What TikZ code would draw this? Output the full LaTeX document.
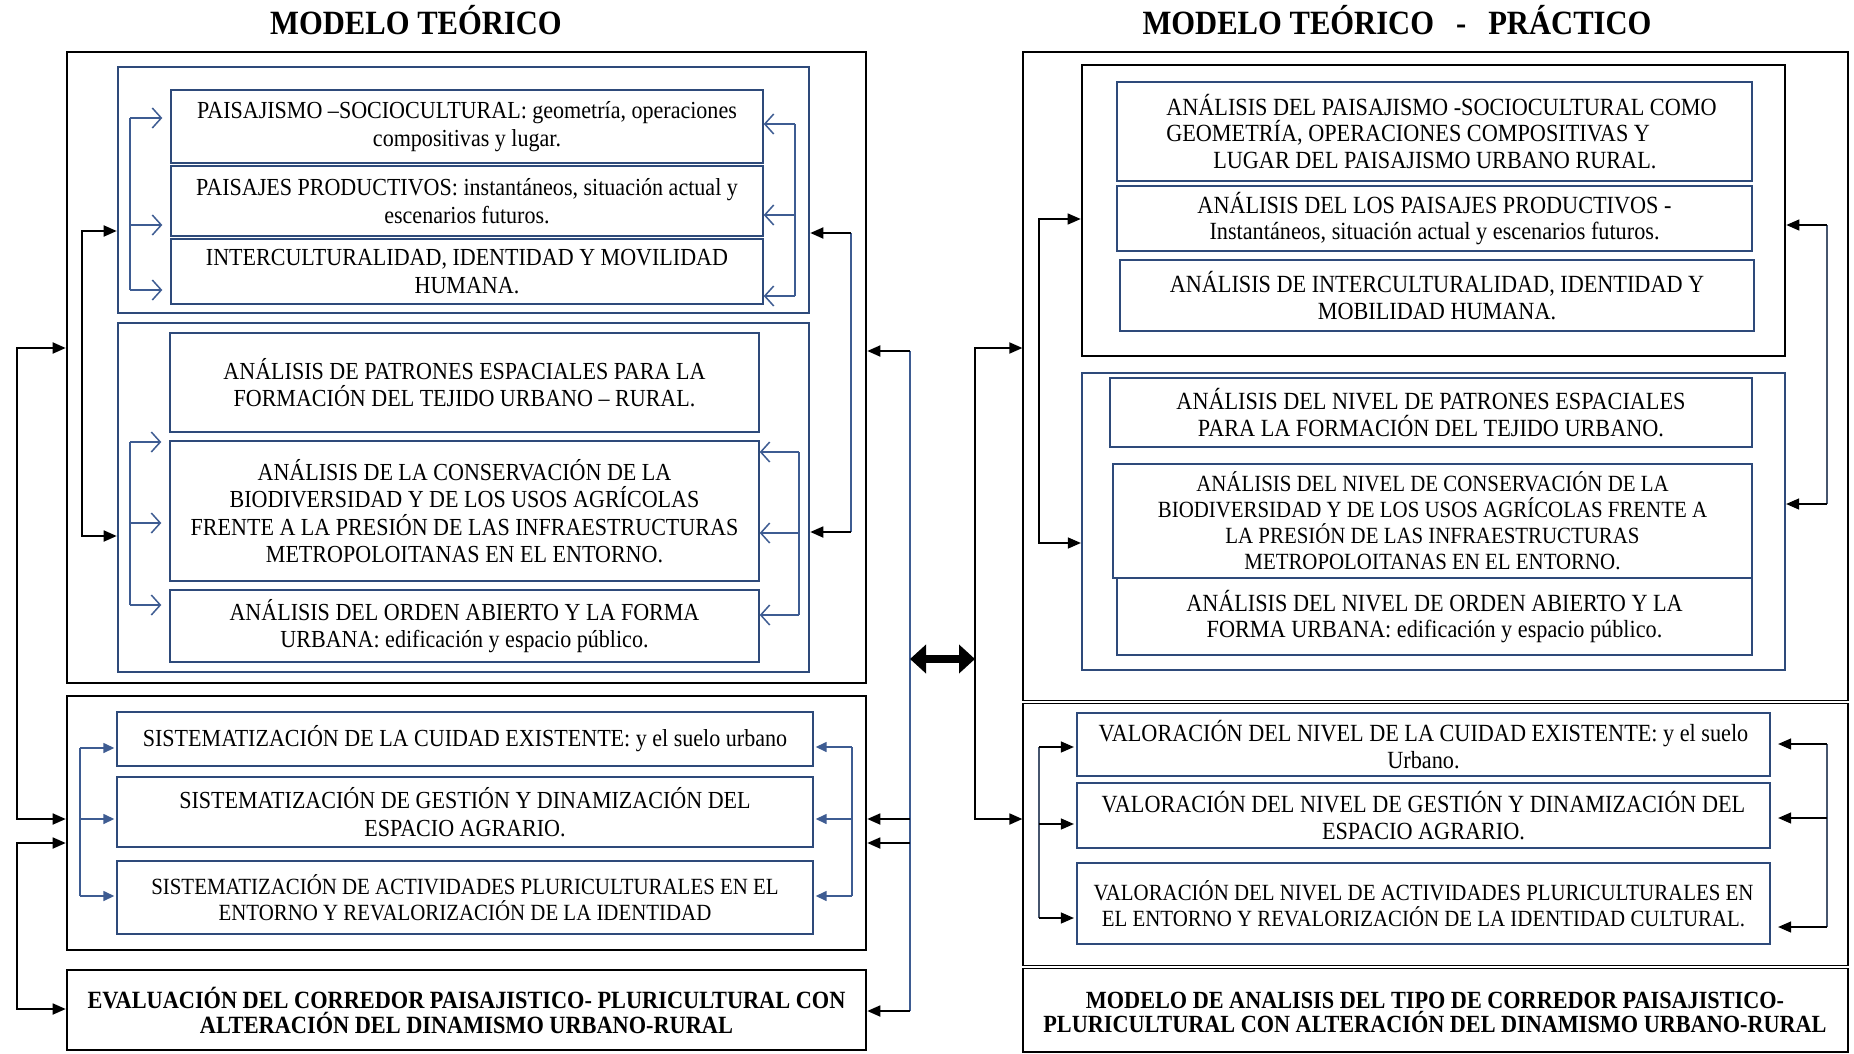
\documentclass[tikz,border=0pt]{standalone}
\usepackage{fontspec}
\setmainfont{Liberation Serif}[FakeStretch=0.9]
\usetikzlibrary{arrows.meta}
\definecolor{navy}{RGB}{46,74,122}
\definecolor{brk}{RGB}{62,92,146}
\definecolor{slate}{RGB}{70,85,110}
\begin{document}
\begin{tikzpicture}[x=1pt,y=-1pt,
  box/.style={rectangle, inner sep=0pt, align=center},
  sz/.style 2 args={minimum width=#1pt, minimum height=#2pt},
  blk/.style={box, draw=black, line width=2.6pt},
  nav/.style={box, draw=navy, line width=2.6pt},
  ibl/.style={box, draw=navy, line width=1.4pt, font=\fontsize{24.5}{27.5}\selectfont},
  ibr/.style={box, draw=navy, line width=2.2pt, font=\fontsize{24.7}{26.5}\selectfont},
  ibs/.style={box, draw=navy, line width=2.2pt, font=\fontsize{23.2}{26}\selectfont},
  boldtxt/.style={align=center, font=\bfseries\fontsize{24.8}{25}\selectfont},
  ttl/.style={font=\bfseries\fontsize{34}{38}\selectfont},
  bline/.style={draw=brk, line width=1.5pt},
  sline/.style={draw=slate, line width=1.3pt},
  kline/.style={draw=black, line width=1.8pt},
  oarr/.style={bline, -{Straight Barb[length=9pt,width=20pt,line width=1.5pt]}},
  barr/.style={bline, -{Triangle[length=11pt,width=10pt]}},
  karr/.style={kline, -{Triangle[length=13pt,width=11pt]}},
  tarr/.style={draw=black, line width=1.3pt, -{Triangle[length=13pt,width=11pt]}},
]
\fill[white] (0,0) rectangle (1854,1054);
\useasboundingbox (0,0) rectangle (1854,1054);

% ---------------- titles ----------------
\node[ttl] (T1) at (416,20) {MODELO TEÓRICO};
\node[ttl] (T2) at (1397,20) {MODELO TEÓRICO\hspace{22pt}-\hspace{22pt}PRÁCTICO};

% ---------------- left panel ----------------
\node[blk, sz={799}{631}] (L1) at (466.5,367.5) {};
\node[nav, sz={691}{246}] (A) at (463.5,190) {};
\node[ibl, sz={592}{73}] (A1) at (467,126.5) {PAISAJISMO –SOCIOCULTURAL: geometría, operaciones\\compositivas y lugar.};
\node[ibl, sz={592}{70}] (A2) at (467,201) {PAISAJES PRODUCTIVOS: instantáneos, situación actual y\\escenarios futuros.};
\node[ibl, sz={592}{65}] (A3) at (467,271.5) {INTERCULTURALIDAD, IDENTIDAD Y MOVILIDAD\\HUMANA.};

\node[nav, sz={691}{349}] (B) at (463.5,497.5) {};
\node[ibl, sz={589}{99}] (B1) at (464.5,382.5) {ANÁLISIS DE PATRONES ESPACIALES PARA LA\\FORMACIÓN DEL TEJIDO URBANO – RURAL.};
\node[ibl, sz={589}{140}] (B2) at (464.5,511) {ANÁLISIS DE LA CONSERVACIÓN DE LA\\BIODIVERSIDAD Y DE LOS USOS AGRÍCOLAS\\FRENTE A LA PRESIÓN DE LAS INFRAESTRUCTURAS\\METROPOLOITANAS EN EL ENTORNO.};
\node[ibl, sz={589}{72}] (B3) at (464.5,626) {ANÁLISIS DEL ORDEN ABIERTO Y LA FORMA\\URBANA: edificación y espacio público.};

\node[blk, sz={799}{254}] (L2) at (466.5,823) {};
\node[ibl, sz={696}{54}] (C1) at (465,739) {SISTEMATIZACIÓN DE LA CUIDAD EXISTENTE: y el suelo urbano};
\node[ibl, sz={696}{70}] (C2) at (465,812) {SISTEMATIZACIÓN DE GESTIÓN Y DINAMIZACIÓN DEL\\ESPACIO AGRARIO.};
\node[ibl, sz={696}{73}, font=\fontsize{23.2}{25.5}\selectfont] (C3) at (465,897.5) {SISTEMATIZACIÓN DE ACTIVIDADES PLURICULTURALES EN EL\\ENTORNO Y REVALORIZACIÓN DE LA IDENTIDAD};

\node[blk, sz={799}{80}, boldtxt] (L3) at (466.5,1010) {EVALUACIÓN DEL CORREDOR PAISAJISTICO- PLURICULTURAL CON\\ALTERACIÓN DEL DINAMISMO URBANO-RURAL};

% brackets of box A
\coordinate (aL1) at (130,118); \coordinate (aL2) at (130,225); \coordinate (aL3) at (130,290);
\draw[bline] (aL1) -- (aL3);
\draw[oarr, shorten >=8pt] (aL1) -- (aL1 -| A1.west);
\draw[oarr, shorten >=8pt] (aL2) -- (aL2 -| A2.west);
\draw[oarr, shorten >=8pt] (aL3) -- (aL3 -| A3.west);
\coordinate (aR1) at (795,124); \coordinate (aR2) at (795,215); \coordinate (aR3) at (795,296);
\draw[bline] (aR1) -- (aR3);
\draw[oarr] (aR1) -- (aR1 -| A1.east);
\draw[oarr] (aR2) -- (aR2 -| A2.east);
\draw[oarr] (aR3) -- (aR3 -| A3.east);

% brackets of box B
\coordinate (bL1) at (130,442); \coordinate (bL2) at (130,523); \coordinate (bL3) at (130,605);
\draw[bline] (bL1) -- (bL3);
\draw[oarr, shorten >=8pt] (bL1) -- (bL1 -| B2.west);
\draw[oarr, shorten >=8pt] (bL2) -- (bL2 -| B2.west);
\draw[oarr, shorten >=8pt] (bL3) -- (bL3 -| B3.west);
\coordinate (bR1) at (799,452); \coordinate (bR2) at (799,533); \coordinate (bR3) at (799,615);
\draw[bline] (bR1) -- (bR3);
\draw[oarr] (bR1) -- (bR1 -| B2.east);
\draw[oarr] (bR2) -- (bR2 -| B2.east);
\draw[oarr] (bR3) -- (bR3 -| B3.east);

% black connectors A <-> B
\coordinate (kL1) at (82,231); \coordinate (kL2) at (82,536);
\draw[karr] (kL2) |- (A.west |- kL1);
\draw[karr] (kL1) |- (B.west |- kL2);
\coordinate (kR1) at (851,233); \coordinate (kR2) at (851,532);
\draw[bline] (kR1) -- (kR2);
\draw[karr] (kR1) -- (kR1 -| A.east);
\draw[karr] (kR2) -- (kR2 -| B.east);

% brackets of box L2
\coordinate (cL1) at (80,748); \coordinate (cL2) at (80,819); \coordinate (cL3) at (80,896);
\draw[bline] (cL1) -- (cL3);
\draw[barr, shorten >=2pt] (cL1) -- (cL1 -| C1.west);
\draw[barr, shorten >=2pt] (cL2) -- (cL2 -| C2.west);
\draw[barr, shorten >=2pt] (cL3) -- (cL3 -| C3.west);
\coordinate (cR1) at (852,747); \coordinate (cR2) at (852,819); \coordinate (cR3) at (852,896);
\draw[bline] (cR1) -- (cR3);
\draw[barr, shorten >=2pt] (cR1) -- (cR1 -| C1.east);
\draw[barr, shorten >=2pt] (cR2) -- (cR2 -| C2.east);
\draw[barr, shorten >=2pt] (cR3) -- (cR3 -| C3.east);

% far-left connectors
\coordinate (f1) at (17,348); \coordinate (f2) at (17,819);
\coordinate (f3) at (17,843); \coordinate (f4) at (17,1009);
\draw[karr] (f2) |- (L1.west |- f1);
\draw[karr] (f1) |- (L2.west |- f2);
\draw[karr] (f4) |- (L2.west |- f3);
\draw[karr] (f3) |- (L3.west |- f4);

% right-of-left connectors
\coordinate (g1) at (910,351); \coordinate (g2) at (910,819);
\coordinate (g3) at (910,843); \coordinate (g4) at (910,1011);
\draw[bline] (g1) -- (g4);
\draw[karr] (g1) -- (g1 -| L1.east);
\draw[karr] (g2) -- (g2 -| L2.east);
\draw[karr] (g3) -- (g3 -| L2.east);
\draw[karr] (g4) -- (g4 -| L3.east);

% double arrow
\coordinate (dl) at (910,659); \coordinate (dr) at (975,659);
\draw[line width=8pt, {Triangle[length=16pt,width=28pt]}-{Triangle[length=16pt,width=28pt]}] (dl) -- (dr);

% ---------------- right panel ----------------
\node[box, draw=black, line width=1.2pt, sz={825}{1000}] (R) at (1435.5,552) {};
\coordinate (d1) at (0,702); \coordinate (d2) at (0,967);
\draw[double, double distance=2pt, line width=0.8pt] (R.west |- d1) -- (R.east |- d1);
\draw[double, double distance=2pt, line width=0.8pt] (R.west |- d2) -- (R.east |- d2);

\node[blk, sz={703}{291}] (R1) at (1433.5,210.5) {};
\node[ibr, sz={635}{99}, align=left] (R1a) at (1434.5,131.5) {\hspace*{14pt}ANÁLISIS DEL PAISAJISMO -SOCIOCULTURAL COMO\\\hspace*{14pt}GEOMETRÍA, OPERACIONES COMPOSITIVAS Y\\\hspace*{61pt}LUGAR DEL PAISAJISMO URBANO RURAL.};
\node[ibr, sz={635}{65}] (R1b) at (1434.5,218.5) {ANÁLISIS DEL LOS PAISAJES PRODUCTIVOS -\\Instantáneos, situación actual y escenarios futuros.};
\node[ibr, sz={634}{71}] (R1c) at (1437,295.5) {ANÁLISIS DE INTERCULTURALIDAD, IDENTIDAD Y\\MOBILIDAD HUMANA.};

\node[nav, line width=2.2pt, sz={703}{297}] (R2) at (1433.5,521.5) {};
\node[ibr, sz={642}{69}] (R2a) at (1431,412.5) {ANÁLISIS DEL NIVEL DE PATRONES ESPACIALES\\PARA LA FORMACIÓN DEL TEJIDO URBANO.};
\node[ibs, sz={639}{114}] (R2b) at (1432.5,521) {ANÁLISIS DEL NIVEL DE CONSERVACIÓN DE LA\\BIODIVERSIDAD Y DE LOS USOS AGRÍCOLAS FRENTE A\\LA PRESIÓN DE LAS INFRAESTRUCTURAS\\METROPOLOITANAS EN EL ENTORNO.};
\node[ibr, sz={635}{77}] (R2c) at (1434.5,616.5) {ANÁLISIS DEL NIVEL DE ORDEN ABIERTO Y LA\\FORMA URBANA: edificación y espacio público.};

\node[ibr, sz={693}{63}] (V1) at (1423.5,744.5) {VALORACIÓN DEL NIVEL DE LA CUIDAD EXISTENTE: y el suelo\\Urbano.};
\node[ibr, sz={693}{65}] (V2) at (1423.5,815.5) {VALORACIÓN DEL NIVEL DE GESTIÓN Y DINAMIZACIÓN DEL\\ESPACIO AGRARIO.};
\node[ibs, sz={693}{81}] (V3) at (1423.5,903.5) {VALORACIÓN DEL NIVEL DE ACTIVIDADES PLURICULTURALES EN\\EL ENTORNO Y REVALORIZACIÓN DE LA IDENTIDAD CULTURAL.};

\node[boldtxt, font=\bfseries\fontsize{24.7}{24}\selectfont] (RB) at (1435,1012) {MODELO DE ANALISIS DEL TIPO DE CORREDOR PAISAJISTICO-\\PLURICULTURAL CON ALTERACIÓN DEL DINAMISMO URBANO-RURAL};

% middle connectors into R
\coordinate (m1) at (975,348); \coordinate (m2) at (975,819);
\draw[karr] (m2) |- (R.west |- m1);
\draw[karr] (m1) |- (R.west |- m2);

% R1/R2 connectors
\coordinate (rL1) at (1039,219); \coordinate (rL2) at (1039,543);
\draw[tarr] (rL2) |- (R1.west |- rL1);
\draw[tarr] (rL1) |- (R2.west |- rL2);
\coordinate (rR1) at (1827,225); \coordinate (rR2) at (1827,504);
\draw[sline] (rR1) -- (rR2);
\draw[tarr] (rR1) -- (rR1 -| R1.east);
\draw[tarr] (rR2) -- (rR2 -| R2.east);

% valoracion connectors
\coordinate (vL1) at (1039,747); \coordinate (vL2) at (1039,824); \coordinate (vL3) at (1039,918);
\draw[sline] (vL1) -- (vL3);
\draw[tarr, shorten >=2pt] (vL1) -- (vL1 -| V1.west);
\draw[tarr, shorten >=2pt] (vL2) -- (vL2 -| V2.west);
\draw[tarr, shorten >=2pt] (vL3) -- (vL3 -| V3.west);
\coordinate (vR1) at (1827,744); \coordinate (vR2) at (1827,818); \coordinate (vR3) at (1827,927);
\draw[sline] (vR1) -- (vR3);
\draw[tarr, shorten >=7pt] (vR1) -- (vR1 -| V1.east);
\draw[tarr, shorten >=7pt] (vR2) -- (vR2 -| V2.east);
\draw[tarr, shorten >=7pt] (vR3) -- (vR3 -| V3.east);
\end{tikzpicture}
\end{document}
